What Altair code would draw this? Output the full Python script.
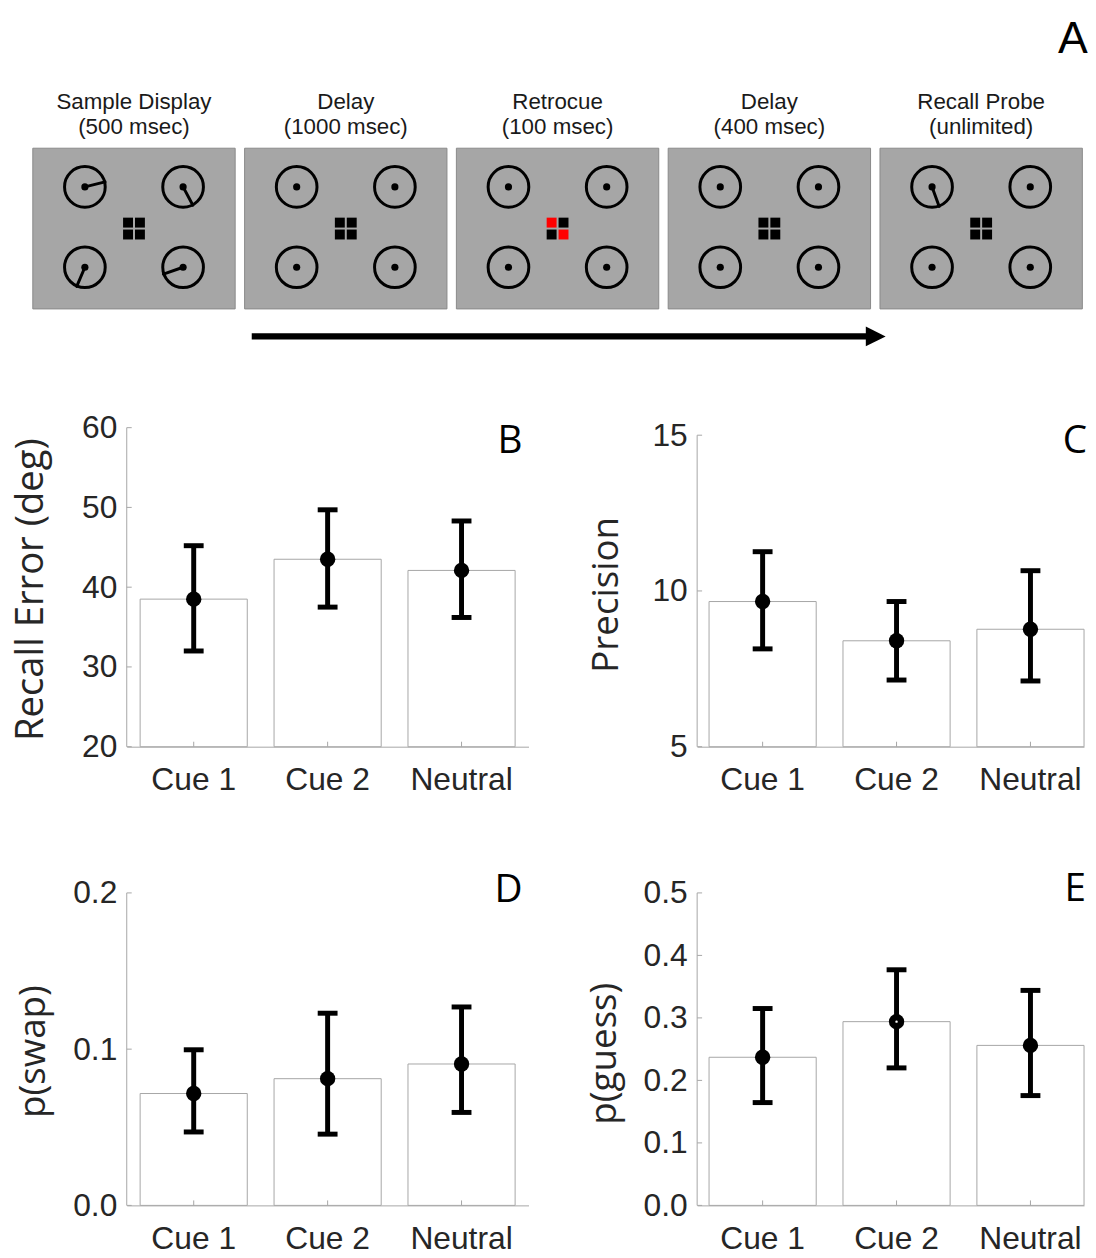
import math
import altair as alt
import pandas as pd

# ---------------- data: panel A (task schematic) ----------------
stage_names = ["Sample Display", "Delay", "Retrocue", "Delay", "Recall Probe"]
stage_times = ["(500 msec)", "(1000 msec)", "(100 msec)", "(400 msec)", "(unlimited)"]
item_slots = ["TL", "TR", "BL", "BR"]
# needle orientation per item (degrees, counter-clockwise from east); None = no needle
needle_deg = [
    [14, -62, -113, -161],
    [None, None, None, None],
    [None, None, None, None],
    [None, None, None, None],
    [-70, None, None, None],
]
cue_square_colors = [
    ["black", "black", "black", "black"],
    ["black", "black", "black", "black"],
    ["red", "black", "black", "red"],
    ["black", "black", "black", "black"],
    ["black", "black", "black", "black"],
]

# ---------------- data: panels B-E ----------------
conditions = ["Cue 1", "Cue 2", "Neutral"]

recall_error = [38.5, 43.5, 42.1]
recall_error_lo = [32.0, 37.5, 36.2]
recall_error_hi = [45.2, 49.7, 48.3]
recall_ticks = [20, 30, 40, 50, 60]

precision = [9.66, 8.40, 8.77]
precision_lo = [8.14, 7.14, 7.11]
precision_hi = [11.26, 9.66, 10.65]
precision_ticks = [5, 10, 15]

p_swap = [0.0716, 0.0811, 0.0905]
p_swap_lo = [0.047, 0.0456, 0.0595]
p_swap_hi = [0.0996, 0.123, 0.127]
p_swap_ticks = [0.0, 0.1, 0.2]

p_guess = [0.237, 0.294, 0.256]
p_guess_lo = [0.1645, 0.220, 0.1757]
p_guess_hi = [0.315, 0.377, 0.344]
p_guess_ticks = [0.0, 0.1, 0.2, 0.3, 0.4, 0.5]
p_guess_marker_core = [False, True, False]   # Cue 2 marker shows a small white centre

# ---------------- layout (pixels) ----------------
LEFT_W, RIGHT_W = 405, 390
ROW1_H, ROW2_H = 321.6, 315
COL_GAP, ROW_GAP = 170, 147
A_X0, A_Y0 = 126.7, 8.0
A_H = 270.7

PANEL_X0, PANEL_STEP, PANEL_W = 32.0, 213.5, 204.0
PANEL_Y0, PANEL_H = 144.3, 162.0
ITEM_DX, ITEM_DY = 49.5, (-42.0, 39.0)
RING_D, NEEDLE_L, SQ_OFF = 41, 21, 6

AXIS_GRAY = "#a6a6a6"
TEXT_DARK = "#262626"

# ---------------- panel A ----------------
panel_rows, title_rows, ring_rows, needle_rows, square_rows = [], [], [], [], []
for i, (name, dur) in enumerate(zip(stage_names, stage_times)):
    x0 = PANEL_X0 + i * PANEL_STEP
    cx = x0 + PANEL_W / 2
    cy = PANEL_Y0 + PANEL_H / 2
    panel_rows.append(dict(x0=x0, x1=x0 + PANEL_W, y0=PANEL_Y0, y1=PANEL_Y0 + PANEL_H))
    title_rows.append(dict(x=cx, y=105, text=name))
    title_rows.append(dict(x=cx, y=130, text=dur))
    for k, slot in enumerate(item_slots):
        ix = cx + (-ITEM_DX if slot[1] == "L" else ITEM_DX)
        iy = cy + (ITEM_DY[0] if slot[0] == "T" else ITEM_DY[1])
        ring_rows.append(dict(x=ix, y=iy))
        a = needle_deg[i][k]
        if a is not None:
            r = math.radians(a)
            needle_rows.append(dict(x=ix, y=iy, x2=ix + NEEDLE_L * math.cos(r),
                                    y2=iy - NEEDLE_L * math.sin(r)))
        sx = cx + (-SQ_OFF if slot[1] == "L" else SQ_OFF)
        sy = cy + (-SQ_OFF if slot[0] == "T" else SQ_OFF)
        square_rows.append(dict(x=sx, y=sy, c=cue_square_colors[i][k]))

arrow_rows = [dict(x=252.7, x2=873.0, y=334.0)]
head_rows = [dict(x=881.7, y=334.0)]
a_label_rows = [dict(x=1080.5, y=48.3, text="A")]

xsA = alt.Scale(domain=[A_X0, A_X0 + LEFT_W], nice=False, zero=False)
ysA = alt.Scale(domain=[A_Y0, A_Y0 + A_H], nice=False, zero=False, reverse=True)


def AX(f):
    return alt.X(f, type="quantitative", scale=xsA, axis=None)


def AY(f):
    return alt.Y(f, type="quantitative", scale=ysA, axis=None)


panels = alt.Chart(pd.DataFrame(panel_rows)).mark_rect(
    fill="#a6a6a6", stroke="#8a8a8a", strokeWidth=1
).encode(x=AX("x0"), x2="x1", y=AY("y0"), y2="y1")

needles = alt.Chart(pd.DataFrame(needle_rows)).mark_rule(
    color="black", strokeWidth=3, strokeCap="round"
).encode(x=AX("x"), y=AY("y"), x2="x2", y2="y2")

rings = alt.Chart(pd.DataFrame(ring_rows)).mark_point(
    shape="circle", size=RING_D ** 2, filled=False, stroke="black", strokeWidth=3, opacity=1
).encode(x=AX("x"), y=AY("y"))

dots = alt.Chart(pd.DataFrame(ring_rows)).mark_point(
    shape="circle", size=52, filled=True, color="black", opacity=1
).encode(x=AX("x"), y=AY("y"))

squares = alt.Chart(pd.DataFrame(square_rows)).mark_point(
    shape="square", size=100, filled=True, opacity=1
).encode(x=AX("x"), y=AY("y"), color=alt.Color("c:N", scale=None))

titles = alt.Chart(pd.DataFrame(title_rows)).mark_text(
    font="Liberation Sans", fontSize=22.5, color="#1a1a1a", align="center", baseline="alphabetic"
).encode(x=AX("x"), y=AY("y"), text="text:N")

shaft = alt.Chart(pd.DataFrame(arrow_rows)).mark_rule(
    color="black", strokeWidth=6.5
).encode(x=AX("x"), x2="x2", y=AY("y"))

head = alt.Chart(pd.DataFrame(head_rows)).mark_point(
    shape="M-1,-1L1,0L-1,1Z", size=400, filled=True, color="black", opacity=1
).encode(x=AX("x"), y=AY("y"))

a_label = alt.Chart(pd.DataFrame(a_label_rows)).mark_text(
    font="Liberation Sans", fontSize=45, color="black", align="center", baseline="alphabetic"
).encode(x=AX("x"), y=AY("y"), text="text:N")

panel_a = alt.layer(panels, needles, rings, dots, squares, titles, shaft, head, a_label).properties(
    width=LEFT_W, height=A_H
)

blank = alt.Chart(pd.DataFrame({"z": [0]})).mark_point(opacity=0, size=1, strokeWidth=0).encode(
    x=alt.value(5), y=alt.value(5)
).properties(width=10, height=10)


# ---------------- bar panels ----------------
def bar_panel(vals, lo, hi, ticks, ydom_top, fmt, ytitle, letter, width, height,
              right_col, title_x, title_y, letter_x, letter_y, title_size=37, core=None):
    df = pd.DataFrame({"cond": conditions, "val": vals, "lo": lo, "hi": hi,
                       "base": [ticks[0]] * len(conditions),
                       "core": core if core is not None else [False] * len(conditions)})
    caps = pd.DataFrame({"cond": conditions * 2, "v": list(lo) + list(hi)})
    tick_df = pd.DataFrame({"t": ticks})
    axis_df = pd.DataFrame({"y0": [ticks[0]], "y1": [ticks[-1]]})
    letter_df = pd.DataFrame({"letter": [letter]})

    step = 135.0
    if right_col:
        po = (width / step - (len(conditions) - 0.2)) / 2
        xs = alt.Scale(domain=conditions, paddingInner=0.2, paddingOuter=po, align=1)
    else:
        xs = alt.Scale(domain=conditions, paddingInner=0.2, paddingOuter=0.1)
    ys = alt.Scale(domain=[ticks[0], ydom_top], nice=False, zero=False)

    x_axis = alt.Axis(title=None, labelAngle=0, labelFont="Liberation Sans", labelFontSize=32,
                      labelColor=TEXT_DARK, labelPadding=18, ticks=False,
                      domainColor=AXIS_GRAY, domainWidth=1, grid=False)
    y_axis = alt.Axis(title=ytitle, values=ticks, format=fmt, labelFont="Liberation Sans",
                      labelFontSize=32, labelColor=TEXT_DARK, labelPadding=10, ticks=False,
                      domain=False, grid=False, titleFont="Open Sans", titleFontSize=title_size,
                      titleFontWeight="normal", titleColor=TEXT_DARK, titleAngle=270,
                      titleBaseline="alphabetic", titleAlign="center", titleX=title_x,
                      titleY=title_y)

    X = alt.X("cond:N", scale=xs, axis=x_axis, sort=conditions)

    def Y(f):
        return alt.Y(f, type="quantitative", scale=ys, axis=y_axis)

    bars = alt.Chart(df).mark_bar(fill="white", stroke=AXIS_GRAY, strokeWidth=1).encode(
        x=X, y=Y("val"), y2="base:Q"
    )
    yline = alt.Chart(axis_df).mark_rule(color=AXIS_GRAY, strokeWidth=1).encode(
        x=alt.value(0), y=Y("y0"), y2="y1:Q"
    )
    yticks = alt.Chart(tick_df).mark_rule(color=AXIS_GRAY, strokeWidth=1).encode(
        y=Y("t"), x=alt.value(0), x2=alt.value(5)
    )
    xticks = alt.Chart(df).mark_rule(color=AXIS_GRAY, strokeWidth=1).encode(
        x=X, y=alt.value(height), y2=alt.value(height - 5)
    )
    err = alt.Chart(df).mark_rule(color="black", strokeWidth=5).encode(
        x=X, y=Y("lo"), y2="hi:Q"
    )
    cap = alt.Chart(caps).mark_tick(color="black", thickness=5, size=20, opacity=1,
                                    orient="horizontal").encode(
        x=X, y=Y("v")
    )
    pts = alt.Chart(df).mark_circle(color="black", size=240, opacity=1).encode(
        x=X, y=Y("val")
    )
    cores = alt.Chart(df).transform_filter("datum.core").mark_circle(
        color="white", size=6, opacity=1
    ).encode(x=X, y=Y("val"))
    lab = alt.Chart(letter_df).mark_text(font="Open Sans", fontSize=39, color="black",
                                         align="right", baseline="alphabetic").encode(
        x=alt.value(letter_x), y=alt.value(letter_y), text="letter:N"
    )
    return alt.layer(bars, yline, yticks, xticks, err, cap, pts, cores, lab).properties(
        width=width, height=height
    )


panel_b = bar_panel(recall_error, recall_error_lo, recall_error_hi, recall_ticks, 60, "d",
                    "Recall Error (deg)", "B", LEFT_W, ROW1_H, False,
                    -85, ROW1_H / 2 + 2, LEFT_W - 6, 26, title_size=38.5)
c_top = 5 + ROW1_H / 31.4
panel_c = bar_panel(precision, precision_lo, precision_hi, precision_ticks, c_top, "d",
                    "Precision", "C", RIGHT_W, ROW1_H, True,
                    -80, 168, RIGHT_W + 3, 26)
panel_d = bar_panel(p_swap, p_swap_lo, p_swap_hi, p_swap_ticks, 0.2, ".1f",
                    "p(swap)", "D", LEFT_W, ROW2_H, False,
                    -83, ROW2_H / 2 + 2, LEFT_W - 6, 9)
panel_e = bar_panel(p_guess, p_guess_lo, p_guess_hi, p_guess_ticks, 0.5, ".1f",
                    "p(guess)", "E", RIGHT_W, ROW2_H, True,
                    -82, ROW2_H / 2 + 4, RIGHT_W + 2, 8, core=p_guess_marker_core)

chart = alt.concat(
    panel_a, blank, panel_b, panel_c, panel_d, panel_e,
    columns=2,
    spacing={"row": ROW_GAP, "column": COL_GAP},
    bounds="flush",
    align="each",
).properties(
    padding={"left": 3.7, "top": 0, "right": 0, "bottom": 0},
    background="white",
).configure_view(stroke=None)

chart.save("out.html", embed_options={"renderer": "svg", "actions": False})
